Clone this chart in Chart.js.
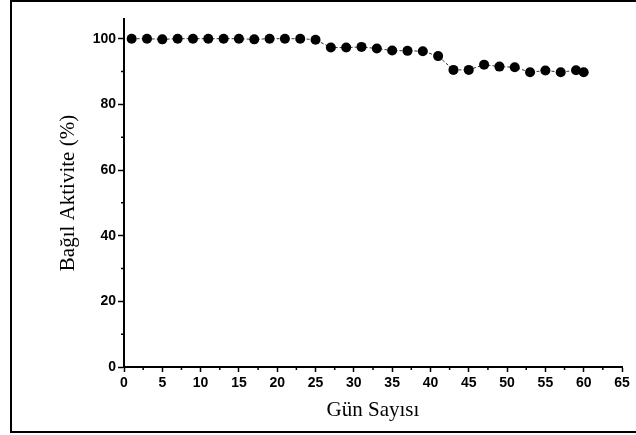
<!DOCTYPE html>
<html>
<head>
<meta charset="utf-8">
<script src="https://cdn.jsdelivr.net/npm/chart.js@4/dist/chart.umd.min.js"></script>
<style>
  html, body { margin: 0; padding: 0; background: #fff; overflow: hidden; }
  #wrap { position: relative; width: 636px; height: 435px; }
  #frame { position: absolute; left: 10px; top: 0px; width: 640px; height: 429px;
           border-left: 2px solid #000; border-top: 2px solid #000; border-bottom: 2px solid #000;
           pointer-events: none; }
</style>
</head>
<body>
<div id="wrap">
  <canvas id="c" width="636" height="435"></canvas>
  <div id="frame"></div>
</div>
<script>
// Data
const days = [1, 3, 5, 7, 9, 11, 13, 15, 17, 19, 21, 23, 25, 27, 29, 31, 33, 35, 37, 39, 41, 43, 45, 47, 49, 51, 53, 55, 57, 59, 60];
const activity = [100, 100, 99.8, 100, 100, 100, 100, 100, 99.8, 100, 100, 100, 99.7, 97.3, 97.3, 97.5, 97.0, 96.4, 96.3, 96.2, 94.7, 90.5, 90.5, 92.1, 91.5, 91.3, 89.8, 90.3, 89.8, 90.4, 89.8];
const xTitle = 'Gün Sayısı';
const yTitle = 'Bağıl Aktivite (%)';
const xMinorTicks = [2.5, 7.5, 12.5, 17.5, 22.5, 27.5, 32.5, 37.5, 42.5, 47.5, 52.5, 57.5, 62.5];
const yMinorTicks = [10, 30, 50, 70, 90];

const points = days.map((d, i) => ({ x: d, y: activity[i] }));

const minorTicksPlugin = {
  id: 'minorTicks',
  afterDraw(chart) {
    const ctx = chart.ctx;
    const xs = chart.scales.x, ys = chart.scales.y;
    ctx.save();
    ctx.strokeStyle = '#000';
    ctx.lineWidth = 1.5;
    ctx.beginPath();
    xMinorTicks.forEach(v => {
      const px = xs.getPixelForValue(v);
      ctx.moveTo(px, xs.top);
      ctx.lineTo(px, xs.top + 3);
    });
    yMinorTicks.forEach(v => {
      const py = ys.getPixelForValue(v);
      ctx.moveTo(ys.right, py);
      ctx.lineTo(ys.right - 3, py);
    });
    ctx.stroke();
    ctx.restore();
  }
};

new Chart(document.getElementById('c'), {
  type: 'scatter',
  data: {
    datasets: [{
      data: points,
      showLine: true,
      borderColor: '#333',
      borderWidth: 1,
      borderDash: [3, 2],
      pointRadius: 5,
      pointHoverRadius: 5,
      pointBackgroundColor: '#000',
      pointBorderColor: '#000',
      pointBorderWidth: 0
    }]
  },
  options: {
    responsive: false,
    animation: false,
    events: [],
    layout: { padding: { left: 0, right: 14, top: 19, bottom: 0 } },
    plugins: { legend: { display: false }, tooltip: { enabled: false } },
    scales: {
      x: {
        type: 'linear',
        min: 0, max: 65,
        afterFit(scale) { scale.height = 68; },
        border: { display: true, color: '#000', width: 2 },
        grid: { drawOnChartArea: false, drawTicks: true, tickLength: 5, tickColor: '#000', tickWidth: 1.5 },
        ticks: { stepSize: 5, color: '#000', padding: 3, maxRotation: 0,
                 font: { family: '"Liberation Sans", Arial, sans-serif', size: 14, weight: 'bold' } },
        title: { display: true, text: xTitle, color: '#000', padding: { top: 0, bottom: 12 },
                 font: { family: '"Liberation Serif", "Times New Roman", serif', size: 21, weight: 'normal' } }
      },
      y: {
        type: 'linear',
        min: 0, max: 106,
        afterFit(scale) { scale.width = 124; },
        border: { display: true, color: '#000', width: 2 },
        grid: { drawOnChartArea: false, drawTicks: true, tickLength: 6, tickColor: '#000', tickWidth: 1.5 },
        ticks: { stepSize: 20, includeBounds: false, color: '#000', padding: 2,
                 font: { family: '"Liberation Sans", Arial, sans-serif', size: 14, weight: 'bold' } },
        title: { display: true, text: yTitle, color: '#000', padding: { top: 56, bottom: 0 },
                 font: { family: '"Liberation Serif", "Times New Roman", serif', size: 21, weight: 'normal' } }
      }
    }
  },
  plugins: [minorTicksPlugin]
});
</script>
</body>
</html>
